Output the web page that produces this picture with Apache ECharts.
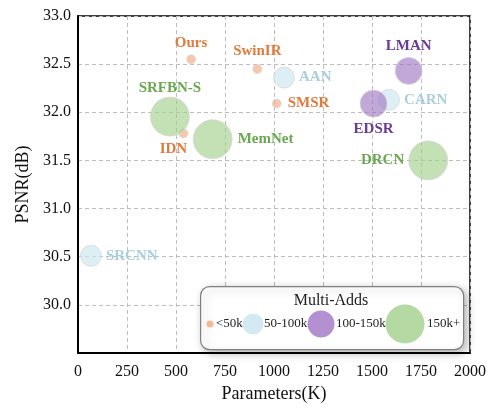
<!DOCTYPE html>
<html>
<head>
<meta charset="utf-8">
<script src="https://cdn.jsdelivr.net/npm/echarts@6/dist/echarts.min.js"></script>
<style>html,body{margin:0;padding:0;background:#fff}#c{width:489px;height:408px}</style>
</head>
<body>
<div id="c"></div>
<script>
// Super-resolution models: parameter count (K) vs. PSNR (dB), grouped by Multi-Adds
const models   = ['Ours', 'SwinIR', 'SMSR', 'IDN', 'AAN', 'CARN', 'SRCNN', 'LMAN', 'EDSR', 'SRFBN-S', 'MemNet', 'DRCN'];
const params   = [577, 915, 1014, 538, 1051, 1587, 66, 1687, 1508, 469, 687, 1787];
const psnr     = [32.55, 32.45, 32.09, 31.78, 32.36, 32.13, 30.51, 32.43, 32.09, 31.955, 31.72, 31.50];
const groupIdx = [0, 0, 0, 0, 1, 1, 1, 2, 2, 3, 3, 3];
const groups   = ['<50k', '50-100k', '100-150k', '150k+'];
const xTicks   = [0, 250, 500, 750, 1000, 1250, 1500, 1750, 2000];
const yTicks   = [30.0, 30.5, 31.0, 31.5, 32.0, 32.5, 33.0];

const serif = '"Liberation Serif", "DejaVu Serif", serif';
const markerColors = ['rgba(243,168,122,0.8)', 'rgba(205,230,240,0.85)', 'rgba(160,118,196,0.8)', 'rgba(163,207,140,0.8)'];
const labelColors  = ['#e27a3c', '#a9cfdd', '#6b3a99', '#6aa84f'];
const sizes        = [9, 21, 27, 39];
// where each model's name sits relative to its marker
const labelPlace = {
  'Ours': {position: 'top', distance: 4},
  'SwinIR': {position: 'top', distance: 5},
  'SMSR': {position: 'right', distance: 6},
  'IDN': {position: 'bottom', distance: 3, offset: [-10, 0]},
  'AAN': {position: 'right', distance: 4},
  'CARN': {position: 'right', distance: 4},
  'SRCNN': {position: 'right', distance: 4},
  'LMAN': {position: 'top', distance: 3},
  'EDSR': {position: 'bottom', distance: 4},
  'SRFBN-S': {position: 'top', distance: 1},
  'MemNet': {position: 'right', distance: 5},
  'DRCN': {position: 'left', distance: 4}
};

const series = groups.map((g, gi) => ({
  name: g,
  type: 'scatter',
  symbolSize: sizes[gi],
  itemStyle: {color: markerColors[gi], borderColor: 'rgba(215,215,215,0.9)', borderWidth: 1},
  z: 3,
  data: models.map((m, i) => ({m, i})).filter(o => groupIdx[o.i] === gi).map(o => ({
    name: o.m,
    value: [params[o.i], psnr[o.i]],
    label: Object.assign({
      show: true, formatter: o.m, color: labelColors[gi],
      fontFamily: serif, fontWeight: 'bold', fontSize: 15,
      textBorderWidth: 0, opacity: 1
    }, labelPlace[o.m])
  }))
}));

// Multi-Adds key box in the lower right
const keyX = [210, 253, 321, 405];
const keyTextX = [216, 264, 336, 427];
const keyY = 324;
const legendGraphics = [{
  type: 'rect', left: 200, top: 286,
  shape: {width: 263, height: 63, r: 9},
  style: {fill: '#fff', stroke: '#808080', lineWidth: 1.2,
          shadowBlur: 10, shadowColor: 'rgba(0,0,0,0.3)', shadowOffsetX: 3, shadowOffsetY: 3},
  z: 10
}, {
  type: 'text', x: 331, y: 301,
  style: {text: 'Multi-Adds', font: '16px ' + serif, fill: '#222', textAlign: 'center', textVerticalAlign: 'middle'},
  z: 11
}];
groups.forEach((g, gi) => {
  legendGraphics.push({
    type: 'circle', shape: {cx: keyX[gi], cy: keyY, r: sizes[gi] / 2 + (gi === 0 ? -1 : 0)},
    style: {fill: markerColors[gi]}, z: 11
  });
  legendGraphics.push({
    type: 'text', x: keyTextX[gi], y: keyY,
    style: {text: g, font: '13px ' + serif, fill: '#222', textVerticalAlign: 'middle'}, z: 11
  });
});

const chart = echarts.init(document.getElementById('c'), null, {renderer: 'canvas'});
chart.setOption({
  animation: false,
  grid: {left: 78, right: 17, top: 16, bottom: 47, show: true, borderColor: '#000', borderWidth: 1.5},
  xAxis: {
    type: 'value', min: xTicks[0], max: xTicks[xTicks.length - 1], interval: 250,
    name: 'Parameters(K)', nameLocation: 'middle', nameGap: 32,
    nameTextStyle: {fontFamily: serif, fontSize: 18, color: '#111'},
    axisLine: {show: true, lineStyle: {color: '#000', width: 2}},
    axisTick: {show: false},
    axisLabel: {fontFamily: serif, fontSize: 16, color: '#111', margin: 11, formatter: v => String(v)},
    splitLine: {show: true, lineStyle: {color: '#bdbdbd', type: [4, 3], width: 1}}
  },
  yAxis: {
    type: 'value', min: 29.5, max: yTicks[yTicks.length - 1], interval: 0.5,
    name: 'PSNR(dB)', nameLocation: 'middle', nameGap: 44,
    nameTextStyle: {fontFamily: serif, fontSize: 18, color: '#111'},
    axisLine: {show: true, lineStyle: {color: '#000', width: 2}},
    axisTick: {show: false},
    axisLabel: {
      fontFamily: serif, fontSize: 16, color: '#111', margin: 7,
      formatter: v => yTicks.some(t => Math.abs(t - v) < 1e-6) ? v.toFixed(1) : ''
    },
    splitLine: {show: true, lineStyle: {color: '#bdbdbd', type: [4, 3], width: 1}}
  },
  series,
  graphic: legendGraphics
});
</script>
</body>
</html>
